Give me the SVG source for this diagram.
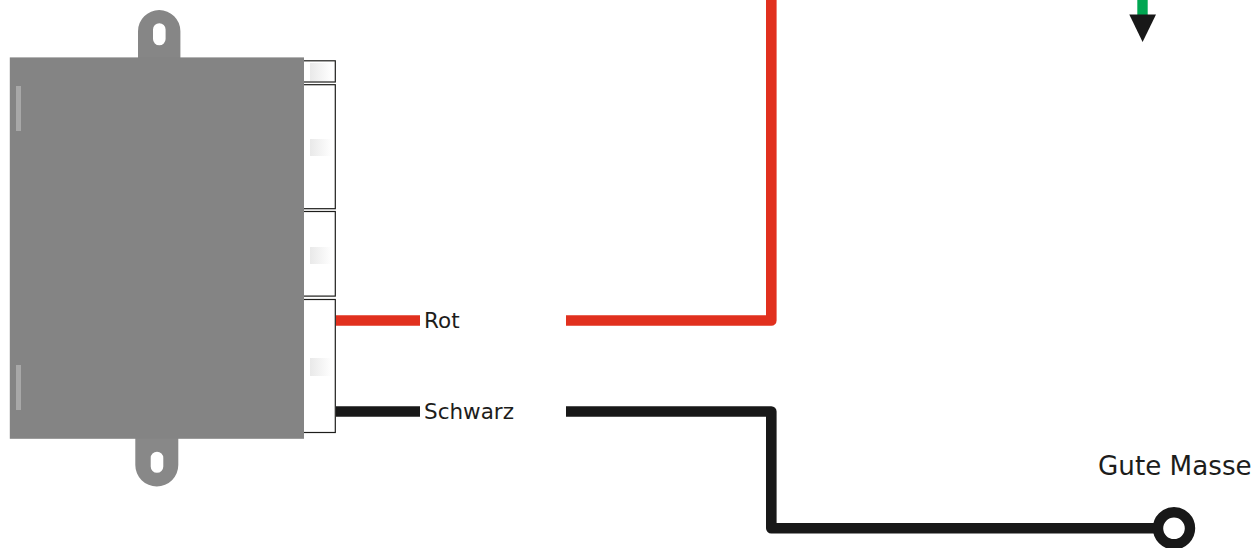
<svg xmlns="http://www.w3.org/2000/svg" width="1256" height="548" viewBox="0 0 1256 548">
<style>
.t{font-family:"DejaVu Sans",Verdana,sans-serif;fill:#1d1d1b}
.w{fill:none;stroke-width:10.6;stroke-linejoin:round}
.box{fill:#fff;stroke:#1d1d1b;stroke-width:1.2}
.pin{fill:url(#pin)}
.strip{fill:#a8a8a8}
</style>
<defs>
<linearGradient id="pin"><stop offset="0" stop-color="#e9e9e9"/><stop offset="1" stop-color="#fff"/></linearGradient>
</defs>
<rect width="1256" height="548" fill="#fff"/>
<g id="connectors">
<path class="w" stroke="#e1301e" d="M336 320.500H420"/>
<path class="w" stroke="#e1301e" d="M566 320.500H771.300V0"/>
<path class="w" stroke="#181818" d="M336 411.500H420"/>
<path class="w" stroke="#181818" d="M566 411.500H771.300V528.300H1158"/>
<path d="M1142.500 0V16" fill="none" stroke="#00a651" stroke-width="10.400"/>
</g>
<g id="device">
<rect class="box" x="303" y="60.800" width="32.300" height="21.200"/>
<rect class="box" x="303" y="84.700" width="32.300" height="124"/>
<rect class="box" x="303" y="211.500" width="32.300" height="84.600"/>
<rect class="box" x="303" y="299.500" width="32.300" height="133"/>
<rect class="pin" x="310" y="63" width="22" height="18"/>
<rect class="pin" x="310" y="139" width="22" height="17"/>
<rect class="pin" x="310" y="247" width="22" height="17"/>
<rect class="pin" x="310" y="358" width="22" height="18"/>
<path fill="#868686" fill-rule="evenodd" d="M138 58V31.200a21.200 21.200 0 0 1 42.400 0V58ZM153 29.500v9.500a6.300 6.300 0 0 0 12.600 0V29.500a6.300 6.300 0 0 0-12.600 0Z"/>
<path fill="#888888" fill-rule="evenodd" d="M135.300 438V465a21.500 21.500 0 0 0 43 0V438ZM150.700 458v8.500a6.300 6.300 0 0 0 12.600 0V458a6.300 6.300 0 0 0-12.600 0Z"/>
<rect x="9.800" y="57.400" width="294.200" height="381.400" fill="#848484"/>
<rect class="strip" x="16" y="86" width="5" height="45"/>
<rect class="strip" x="16" y="365" width="5" height="45"/>
</g>
<g id="label-rot"><text class="t" x="424" y="327.500" font-size="21.500">Rot</text></g>
<g id="label-schwarz"><text class="t" x="424" y="419" font-size="21.500">Schwarz</text></g>
<g id="ground">
<circle cx="1174" cy="528.300" r="16" fill="#fff" stroke="#181818" stroke-width="10.400"/>
<text class="t" x="1098" y="474.500" font-size="26.200">Gute Masse</text>
</g>
<g id="arrow"><path d="M1129.300 14.500H1156L1142.600 42Z" fill="#181818"/></g>
</svg>
